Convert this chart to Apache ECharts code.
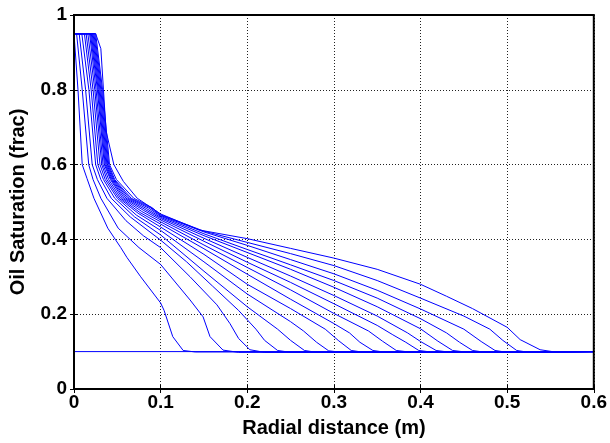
<!DOCTYPE html>
<html>
<head>
<meta charset="utf-8">
<script src="https://cdn.jsdelivr.net/npm/echarts@6/dist/echarts.min.js"></script>
<style>
html,body{margin:0;padding:0;background:#fff;}
#chart{width:610px;height:443px;}
</style>
</head>
<body>
<div id="chart"></div>
<script>
// Tick labels
var xTickLabels = ['0', '0.1', '0.2', '0.3', '0.4', '0.5', '0.6'];
var yTickLabels = ['0', '0.2', '0.4', '0.6', '0.8', '1'];
var xTitle = 'Radial distance (m)';
var yTitle = 'Oil Saturation (frac)';

// Initial profile (flat at residual)
var curve0 = [[0,0.1],[0.6,0.1]];

var curve1 = [[0,0.95],[0.0046,0.8],[0.0095,0.6],[0.015,0.563],[0.023,0.51],[0.039,0.43],[0.054,0.378],[0.061,0.352],[0.077,0.30],[0.1,0.23],[0.104,0.21],[0.114,0.14],[0.126,0.103],[0.14,0.099],[0.6,0.1]];
var curve2 = [[0,0.95],[0.003,0.95],[0.0095,0.8],[0.017,0.6],[0.022,0.56],[0.031,0.51],[0.051,0.43],[0.075,0.378],[0.1,0.333],[0.134,0.238],[0.149,0.193],[0.157,0.14],[0.172,0.104],[0.19,0.098],[0.6,0.1]];
var curve3 = [[0,0.95],[0.006,0.95],[0.0134,0.8],[0.021,0.6],[0.027,0.56],[0.038,0.51],[0.06,0.45],[0.08,0.41],[0.1,0.378],[0.134,0.30],[0.165,0.225],[0.18,0.175],[0.19,0.135],[0.203,0.105],[0.22,0.098],[0.6,0.1]];
var curve4 = [[0,0.95],[0.009,0.95],[0.0172,0.8],[0.025,0.6],[0.031,0.56],[0.043,0.51],[0.065,0.46],[0.1,0.398],[0.13,0.34],[0.16,0.275],[0.19,0.21],[0.21,0.16],[0.22,0.13],[0.235,0.103],[0.25,0.098],[0.6,0.1]];
var curve5 = [[0,0.95],[0.012,0.95],[0.0198,0.8],[0.0275,0.6],[0.034,0.56],[0.047,0.51],[0.07,0.46],[0.1,0.412],[0.15,0.315],[0.2,0.22],[0.235,0.16],[0.25,0.13],[0.266,0.103],[0.28,0.098],[0.6,0.1]];
var curve6 = [[0,0.95],[0.014,0.95],[0.022,0.8],[0.03,0.6],[0.036,0.56],[0.05,0.51],[0.072,0.465],[0.1,0.424],[0.15,0.34],[0.2,0.254],[0.25,0.18],[0.265,0.155],[0.28,0.125],[0.294,0.102],[0.31,0.098],[0.6,0.1]];
var curve7 = [[0,0.95],[0.016,0.95],[0.024,0.8],[0.032,0.6],[0.038,0.56],[0.052,0.51],[0.074,0.47],[0.1,0.433],[0.15,0.36],[0.2,0.28],[0.25,0.215],[0.29,0.16],[0.305,0.13],[0.32,0.103],[0.335,0.098],[0.6,0.1]];
var curve8 = [[0,0.95],[0.018,0.95],[0.0255,0.8],[0.0335,0.6],[0.04,0.56],[0.054,0.51],[0.076,0.472],[0.1,0.441],[0.15,0.375],[0.2,0.307],[0.25,0.24],[0.3,0.175],[0.318,0.15],[0.33,0.125],[0.345,0.103],[0.36,0.098],[0.6,0.1]];
var curve9 = [[0,0.95],[0.019,0.95],[0.027,0.8],[0.035,0.6],[0.042,0.56],[0.056,0.51],[0.078,0.475],[0.1,0.447],[0.15,0.385],[0.2,0.325],[0.25,0.265],[0.3,0.202],[0.34,0.155],[0.356,0.128],[0.372,0.103],[0.39,0.098],[0.6,0.1]];
var curve10 = [[0,0.95],[0.02,0.95],[0.028,0.8],[0.036,0.6],[0.043,0.56],[0.058,0.51],[0.08,0.478],[0.1,0.452],[0.15,0.395],[0.2,0.339],[0.25,0.285],[0.3,0.228],[0.35,0.17],[0.368,0.145],[0.383,0.125],[0.398,0.103],[0.415,0.098],[0.6,0.1]];
var curve11 = [[0,0.95],[0.021,0.95],[0.029,0.8],[0.037,0.6],[0.044,0.56],[0.06,0.51],[0.082,0.48],[0.1,0.456],[0.15,0.403],[0.2,0.352],[0.25,0.302],[0.3,0.25],[0.35,0.195],[0.385,0.15],[0.4,0.127],[0.418,0.103],[0.435,0.098],[0.6,0.1]];
var curve12 = [[0,0.95],[0.022,0.95],[0.03,0.8],[0.038,0.6],[0.045,0.56],[0.062,0.51],[0.084,0.482],[0.1,0.459],[0.15,0.41],[0.2,0.365],[0.25,0.32],[0.3,0.272],[0.35,0.22],[0.4,0.161],[0.42,0.128],[0.437,0.103],[0.455,0.098],[0.6,0.1]];
var curve13 = [[0,0.95],[0.023,0.95],[0.031,0.8],[0.039,0.6],[0.046,0.56],[0.064,0.51],[0.086,0.484],[0.1,0.462],[0.15,0.415],[0.2,0.373],[0.25,0.332],[0.3,0.29],[0.35,0.243],[0.4,0.188],[0.43,0.15],[0.445,0.125],[0.46,0.103],[0.475,0.098],[0.6,0.1]];
var curve14 = [[0,0.95],[0.024,0.95],[0.032,0.8],[0.04,0.6],[0.047,0.56],[0.066,0.51],[0.088,0.485],[0.1,0.464],[0.15,0.42],[0.2,0.384],[0.25,0.346],[0.3,0.308],[0.35,0.264],[0.4,0.214],[0.45,0.16],[0.47,0.127],[0.486,0.103],[0.5,0.098],[0.6,0.1]];
var curve15 = [[0,0.95],[0.025,0.95],[0.033,0.8],[0.041,0.6],[0.049,0.56],[0.069,0.51],[0.09,0.485],[0.1,0.466],[0.15,0.422],[0.2,0.392],[0.25,0.362],[0.3,0.33],[0.35,0.29],[0.4,0.243],[0.45,0.195],[0.48,0.16],[0.495,0.13],[0.511,0.103],[0.525,0.098],[0.6,0.1]];
var curve16 = [[0,0.95],[0.025,0.95],[0.031,0.91],[0.034,0.8],[0.037,0.69],[0.046,0.6],[0.057,0.555],[0.073,0.51],[0.1,0.468],[0.145,0.425],[0.2,0.402],[0.25,0.376],[0.3,0.35],[0.35,0.32],[0.4,0.28],[0.43,0.248],[0.46,0.215],[0.5,0.165],[0.515,0.132],[0.538,0.105],[0.555,0.099],[0.6,0.1]];

var curves = [curve0, curve1, curve2, curve3, curve4, curve5, curve6, curve7, curve8,
  curve9, curve10, curve11, curve12, curve13, curve14, curve15, curve16];

var chart = echarts.init(document.getElementById('chart'), null, {renderer: 'canvas'});
var font = "'Liberation Sans', Arial, sans-serif";

var series = curves.map(function (c, i) {
  return {
    type: 'line',
    name: 't' + i,
    data: c,
    showSymbol: false,
    symbol: 'none',
    lineStyle: {color: '#0000ff', width: 1},
    xAxisIndex: 0, yAxisIndex: 0,
    animation: false,
    silent: true,
    z: 3
  };
});

var xLab = {};
xTickLabels.forEach(function (t) { xLab[parseFloat(t).toFixed(1)] = t; });
var yLab = {};
yTickLabels.forEach(function (t) { yLab[parseFloat(t).toFixed(1)] = t; });

var option = {
  backgroundColor: '#ffffff',
  animation: false,
  grid: {left: 73, right: 13, top: 15, bottom: 50, show: true, borderColor: '#000', borderWidth: 2, backgroundColor: 'transparent', z: 10},
  xAxis: [{
    type: 'value', min: 0, max: 0.6, interval: 0.1, position: 'bottom',
    name: xTitle, nameLocation: 'middle', nameGap: 29,
    nameTextStyle: {fontFamily: font, fontWeight: 'bold', fontSize: 20, color: '#000'},
    axisLine: {show: false},
    axisTick: {show: true, inside: true, length: 4, lineStyle: {color: '#000', width: 1}},
    axisLabel: {fontFamily: font, fontWeight: 'bold', fontSize: 19, color: '#000', margin: 4,
      formatter: function (v) { return xLab[v.toFixed(1)] || ''; }},
    splitLine: {show: true, lineStyle: {color: '#222', width: 1, type: [1, 2]}}
  }, {
    type: 'value', min: 0, max: 0.6, interval: 0.1, position: 'top',
    axisLine: {show: false},
    axisTick: {show: true, inside: true, length: 4, lineStyle: {color: '#000', width: 1}},
    axisLabel: {show: false}, splitLine: {show: false}
  }],
  yAxis: [{
    type: 'value', min: 0, max: 1, interval: 0.2, position: 'left',
    name: yTitle, nameLocation: 'middle', nameGap: 46,
    nameTextStyle: {fontFamily: font, fontWeight: 'bold', fontSize: 20, color: '#000'},
    axisLine: {show: false},
    axisTick: {show: true, inside: true, length: 4, lineStyle: {color: '#000', width: 1}},
    axisLabel: {fontFamily: font, fontWeight: 'bold', fontSize: 19, color: '#000', margin: 7,
      formatter: function (v) { return yLab[v.toFixed(1)] || ''; }},
    splitLine: {show: true, lineStyle: {color: '#222', width: 1, type: [1, 2]}}
  }, {
    type: 'value', min: 0, max: 1, interval: 0.2, position: 'right',
    axisLine: {show: false},
    axisTick: {show: true, inside: true, length: 4, lineStyle: {color: '#000', width: 1}},
    axisLabel: {show: false}, splitLine: {show: false}
  }],
  series: series
};
chart.setOption(option);
</script>
</body>
</html>
